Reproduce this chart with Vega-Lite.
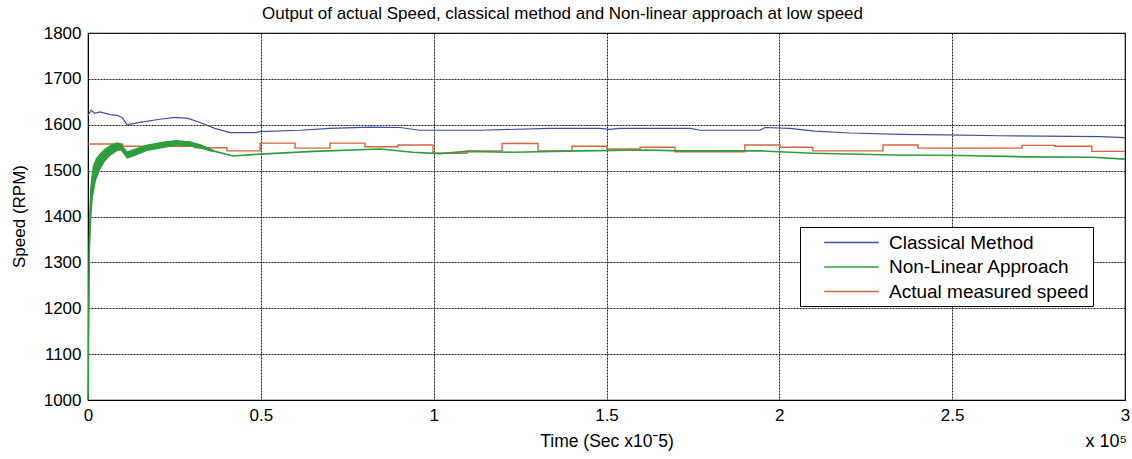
{
  "$schema": "https://vega.github.io/schema/vega-lite/v6.json",
  "width": 1037,
  "height": 367,
  "autosize": {"type": "none"},
  "padding": {"left": 88, "top": 33, "right": 7, "bottom": 59},
  "background": "white",
  "config": {
    "font": "Liberation Sans",
    "view": {"stroke": "black", "strokeWidth": 1.2},
    "axis": {
      "domainColor": "black",
      "labelColor": "black",
      "titleColor": "black",
      "labelFont": "Liberation Sans",
      "titleFont": "Liberation Sans",
      "gridColor": "#222222",
      "gridDash": [2, 1],
      "gridOpacity": 1,
      "gridWidth": 1,
      "tickSize": 0,
      "labelPadding": 7
    }
  },
  "title": {
    "text": "Output of actual Speed, classical method and Non-linear approach at low speed",
    "fontSize": 17,
    "fontWeight": "normal",
    "font": "Liberation Sans",
    "color": "black",
    "offset": 1,
    "dx": -44
  },
  "datasets": {
    "lines": [
      {"series": "Classical Method", "t": 0, "v": 1620},
      {"series": "Classical Method", "t": 0.006, "v": 1628},
      {"series": "Classical Method", "t": 0.009, "v": 1632},
      {"series": "Classical Method", "t": 0.02, "v": 1625},
      {"series": "Classical Method", "t": 0.035, "v": 1628},
      {"series": "Classical Method", "t": 0.064, "v": 1622},
      {"series": "Classical Method", "t": 0.087, "v": 1620},
      {"series": "Classical Method", "t": 0.1, "v": 1615},
      {"series": "Classical Method", "t": 0.113, "v": 1600},
      {"series": "Classical Method", "t": 0.15, "v": 1605},
      {"series": "Classical Method", "t": 0.208, "v": 1612},
      {"series": "Classical Method", "t": 0.252, "v": 1616},
      {"series": "Classical Method", "t": 0.289, "v": 1614},
      {"series": "Classical Method", "t": 0.324, "v": 1605},
      {"series": "Classical Method", "t": 0.367, "v": 1592},
      {"series": "Classical Method", "t": 0.411, "v": 1583},
      {"series": "Classical Method", "t": 0.483, "v": 1583},
      {"series": "Classical Method", "t": 0.498, "v": 1585},
      {"series": "Classical Method", "t": 0.613, "v": 1588},
      {"series": "Classical Method", "t": 0.7, "v": 1592},
      {"series": "Classical Method", "t": 0.816, "v": 1595},
      {"series": "Classical Method", "t": 0.903, "v": 1594},
      {"series": "Classical Method", "t": 0.96, "v": 1588},
      {"series": "Classical Method", "t": 1.134, "v": 1588},
      {"series": "Classical Method", "t": 1.337, "v": 1592},
      {"series": "Classical Method", "t": 1.481, "v": 1592},
      {"series": "Classical Method", "t": 1.51, "v": 1590},
      {"series": "Classical Method", "t": 1.539, "v": 1592},
      {"series": "Classical Method", "t": 1.742, "v": 1592},
      {"series": "Classical Method", "t": 1.771, "v": 1588},
      {"series": "Classical Method", "t": 1.944, "v": 1588},
      {"series": "Classical Method", "t": 1.959, "v": 1594},
      {"series": "Classical Method", "t": 2.03, "v": 1592},
      {"series": "Classical Method", "t": 2.103, "v": 1586},
      {"series": "Classical Method", "t": 2.204, "v": 1582},
      {"series": "Classical Method", "t": 2.349, "v": 1579},
      {"series": "Classical Method", "t": 2.479, "v": 1578},
      {"series": "Classical Method", "t": 2.638, "v": 1576},
      {"series": "Classical Method", "t": 2.928, "v": 1574},
      {"series": "Classical Method", "t": 3.0, "v": 1572},

      {"series": "Non-Linear Approach", "t": 0, "v": 1000},
      {"series": "Non-Linear Approach", "t": 0.001, "v": 1050},
      {"series": "Non-Linear Approach", "t": 0.0015, "v": 1120},
      {"series": "Non-Linear Approach", "t": 0.003, "v": 1260},
      {"series": "Non-Linear Approach", "t": 0.004, "v": 1350},
      {"series": "Non-Linear Approach", "t": 0.006, "v": 1400},
      {"series": "Non-Linear Approach", "t": 0.014, "v": 1480},
      {"series": "Non-Linear Approach", "t": 0.023, "v": 1505},
      {"series": "Non-Linear Approach", "t": 0.035, "v": 1520},
      {"series": "Non-Linear Approach", "t": 0.049, "v": 1535},
      {"series": "Non-Linear Approach", "t": 0.064, "v": 1545},
      {"series": "Non-Linear Approach", "t": 0.084, "v": 1553},
      {"series": "Non-Linear Approach", "t": 0.095, "v": 1552},
      {"series": "Non-Linear Approach", "t": 0.113, "v": 1534},
      {"series": "Non-Linear Approach", "t": 0.136, "v": 1540},
      {"series": "Non-Linear Approach", "t": 0.171, "v": 1550},
      {"series": "Non-Linear Approach", "t": 0.223, "v": 1557},
      {"series": "Non-Linear Approach", "t": 0.257, "v": 1561},
      {"series": "Non-Linear Approach", "t": 0.295, "v": 1558},
      {"series": "Non-Linear Approach", "t": 0.324, "v": 1553},
      {"series": "Non-Linear Approach", "t": 0.362, "v": 1543},
      {"series": "Non-Linear Approach", "t": 0.42, "v": 1532},
      {"series": "Non-Linear Approach", "t": 0.498, "v": 1536},
      {"series": "Non-Linear Approach", "t": 0.651, "v": 1542},
      {"series": "Non-Linear Approach", "t": 0.845, "v": 1547},
      {"series": "Non-Linear Approach", "t": 0.94, "v": 1540},
      {"series": "Non-Linear Approach", "t": 1.018, "v": 1537},
      {"series": "Non-Linear Approach", "t": 1.096, "v": 1542},
      {"series": "Non-Linear Approach", "t": 1.23, "v": 1540},
      {"series": "Non-Linear Approach", "t": 1.423, "v": 1543},
      {"series": "Non-Linear Approach", "t": 1.617, "v": 1545},
      {"series": "Non-Linear Approach", "t": 1.713, "v": 1543},
      {"series": "Non-Linear Approach", "t": 1.944, "v": 1543},
      {"series": "Non-Linear Approach", "t": 2.097, "v": 1538},
      {"series": "Non-Linear Approach", "t": 2.329, "v": 1534},
      {"series": "Non-Linear Approach", "t": 2.523, "v": 1533},
      {"series": "Non-Linear Approach", "t": 2.717, "v": 1530},
      {"series": "Non-Linear Approach", "t": 2.907, "v": 1529},
      {"series": "Non-Linear Approach", "t": 3.0, "v": 1525},

      {"series": "Actual measured speed", "t": 0, "v": 1558},
      {"series": "Actual measured speed", "t": 0.1, "v": 1553},
      {"series": "Actual measured speed", "t": 0.31, "v": 1550},
      {"series": "Actual measured speed", "t": 0.402, "v": 1543},
      {"series": "Actual measured speed", "t": 0.498, "v": 1560},
      {"series": "Actual measured speed", "t": 0.599, "v": 1549},
      {"series": "Actual measured speed", "t": 0.7, "v": 1560},
      {"series": "Actual measured speed", "t": 0.801, "v": 1552},
      {"series": "Actual measured speed", "t": 0.897, "v": 1556},
      {"series": "Actual measured speed", "t": 0.998, "v": 1538},
      {"series": "Actual measured speed", "t": 1.096, "v": 1543},
      {"series": "Actual measured speed", "t": 1.198, "v": 1559},
      {"series": "Actual measured speed", "t": 1.302, "v": 1543},
      {"series": "Actual measured speed", "t": 1.4, "v": 1553},
      {"series": "Actual measured speed", "t": 1.501, "v": 1547},
      {"series": "Actual measured speed", "t": 1.597, "v": 1551},
      {"series": "Actual measured speed", "t": 1.698, "v": 1541},
      {"series": "Actual measured speed", "t": 1.9, "v": 1556},
      {"series": "Actual measured speed", "t": 2.002, "v": 1551},
      {"series": "Actual measured speed", "t": 2.097, "v": 1543},
      {"series": "Actual measured speed", "t": 2.3, "v": 1556},
      {"series": "Actual measured speed", "t": 2.401, "v": 1549},
      {"series": "Actual measured speed", "t": 2.702, "v": 1555},
      {"series": "Actual measured speed", "t": 2.797, "v": 1553},
      {"series": "Actual measured speed", "t": 2.904, "v": 1542},
      {"series": "Actual measured speed", "t": 3.0, "v": 1542}
    ],
    "band": [
      {"t": 0.002, "lo": 1100, "hi": 1300},
      {"t": 0.004, "lo": 1250, "hi": 1420},
      {"t": 0.006, "lo": 1330, "hi": 1460},
      {"t": 0.01, "lo": 1400, "hi": 1490},
      {"t": 0.014, "lo": 1440, "hi": 1510},
      {"t": 0.023, "lo": 1478, "hi": 1527},
      {"t": 0.035, "lo": 1502, "hi": 1538},
      {"t": 0.049, "lo": 1520, "hi": 1548},
      {"t": 0.064, "lo": 1532, "hi": 1556},
      {"t": 0.084, "lo": 1542, "hi": 1562},
      {"t": 0.095, "lo": 1544, "hi": 1559},
      {"t": 0.113, "lo": 1526, "hi": 1542},
      {"t": 0.136, "lo": 1532, "hi": 1548},
      {"t": 0.171, "lo": 1543, "hi": 1557},
      {"t": 0.223, "lo": 1550, "hi": 1564},
      {"t": 0.257, "lo": 1554, "hi": 1567},
      {"t": 0.295, "lo": 1552, "hi": 1564},
      {"t": 0.324, "lo": 1548, "hi": 1558},
      {"t": 0.362, "lo": 1540, "hi": 1546}
    ]
  },
  "encoding": {
    "x": {
      "field": "t",
      "type": "quantitative",
      "scale": {"domain": [0, 3], "nice": false},
      "axis": {
        "values": [0, 0.5, 1, 1.5, 2, 2.5, 3],
        "format": "~g",
        "title": "Time (Sec x10ˉ5)",
        "titleFontSize": 17.5,
        "titleFontWeight": "normal",
        "labelFontSize": 17,
        "titleY": 32,
        "titleBaseline": "top",
        "labelFlush": false
      }
    }
  },
  "layer": [
    {
      "data": {"name": "lines"},
      "transform": [{"filter": "datum.series === 'Actual measured speed'"}],
      "mark": {"type": "line", "interpolate": "step-after", "strokeWidth": 1.4},
      "encoding": {
        "y": {
          "field": "v",
          "type": "quantitative",
          "scale": {"domain": [1000, 1800], "nice": false},
          "axis": {
            "values": [1000, 1100, 1200, 1300, 1400, 1500, 1600, 1700, 1800],
            "format": "d",
            "title": "Speed (RPM)",
            "titleFontSize": 17,
            "titleFontWeight": "normal",
            "labelFontSize": 17,
            "titleX": -60,
            "titleY": 183,
            "titleBaseline": "bottom"
          }
        },
        "color": {
          "field": "series",
          "type": "nominal",
          "scale": {
            "domain": ["Classical Method", "Non-Linear Approach", "Actual measured speed"],
            "range": ["#3c50a8", "#2e9e3e", "#d8643c"]
          },
          "legend": {
            "title": null,
            "orient": "none",
            "legendX": 712,
            "legendY": 194,
            "symbolType": "M-2.6,0H2.6",
            "symbolSize": 441,
            "symbolStrokeWidth": 1.4,
            "symbolOffset": 36,
            "labelFontSize": 19,
            "labelColor": "black",
            "labelFont": "Liberation Sans",
            "labelLimit": 0,
            "rowPadding": 2.5,
            "strokeColor": "black",
            "fillColor": "white",
            "padding": 4,
            "labelOffset": 26,
            "cornerRadius": 0
          }
        }
      }
    },
    {
      "data": {"name": "band"},
      "mark": {"type": "area", "color": "#2e9e3e", "opacity": 1},
      "encoding": {
        "y": {"field": "lo", "type": "quantitative"},
        "y2": {"field": "hi"}
      }
    },
    {
      "data": {"name": "lines"},
      "transform": [{"filter": "datum.series === 'Non-Linear Approach'"}],
      "mark": {"type": "line", "strokeWidth": 1.6},
      "encoding": {
        "y": {"field": "v", "type": "quantitative"},
        "color": {"field": "series", "type": "nominal"}
      }
    },
    {
      "data": {"name": "lines"},
      "transform": [{"filter": "datum.series === 'Classical Method'"}],
      "mark": {"type": "line", "strokeWidth": 1.2},
      "encoding": {
        "y": {"field": "v", "type": "quantitative"},
        "color": {"field": "series", "type": "nominal"}
      }
    },
    {
      "data": {"values": [{"t": 3, "v": 1000, "label": "x 10⁵"}]},
      "mark": {"type": "text", "align": "right", "baseline": "middle", "dy": 42, "dx": 2, "fontSize": 18, "color": "black", "font": "Liberation Sans"},
      "encoding": {
        "y": {"field": "v", "type": "quantitative"},
        "text": {"field": "label"}
      }
    }
  ]
}
